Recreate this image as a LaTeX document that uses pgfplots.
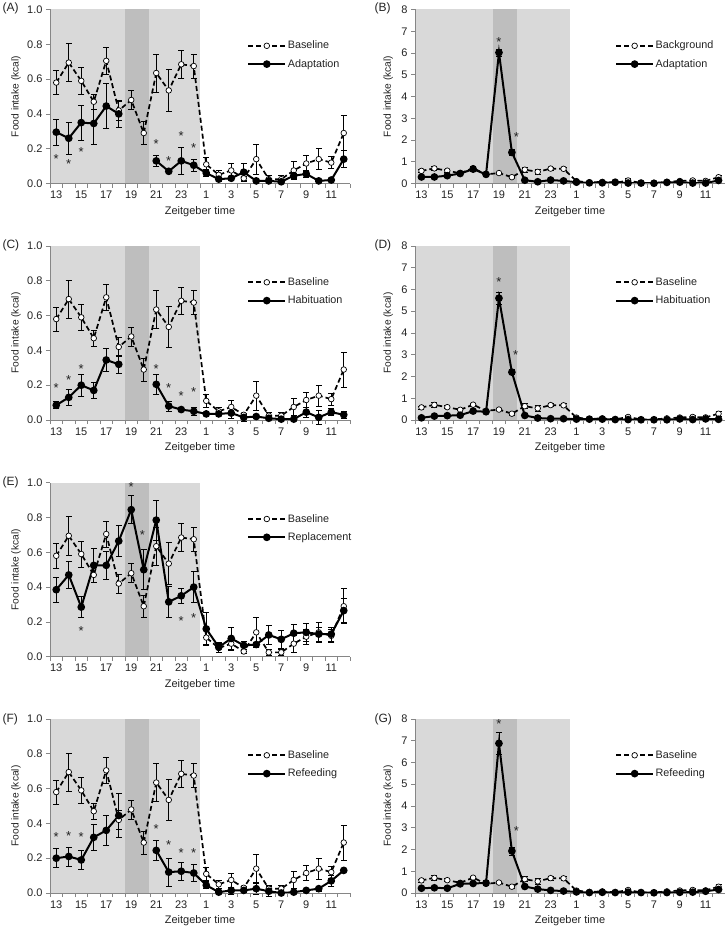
\documentclass[border=0pt]{standalone}
\usepackage{fontspec}
\setmainfont{Liberation Sans}
\usepackage{pgfplots}
\usepackage{pgfplotstable}
\pgfplotsset{compat=1.18}
\definecolor{lightsh}{RGB}{217,217,217}
\definecolor{darksh}{RGB}{190,190,190}
\definecolor{axgray}{RGB}{134,134,134}
\definecolor{txt}{RGB}{35,35,35}

% ---------------- data ----------------
\pgfplotstableread{
x y e
0 0.58 0.07
1 0.695 0.11
2 0.59 0.075
3 0.47 0.045
4 0.705 0.075
5 0.42 0.055
6 0.48 0.055
7 0.29 0.065
8 0.635 0.11
9 0.535 0.12
10 0.685 0.08
11 0.675 0.07
12 0.11 0.04
13 0.05 0.025
14 0.075 0.04
15 0.03 0.01
16 0.14 0.085
17 0.025 0.02
18 0.025 0.02
19 0.075 0.05
20 0.115 0.045
21 0.14 0.06
22 0.12 0.035
23 0.29 0.10
}\tbase

\pgfplotstableread{
x y e
0 0.295 0.075
1 0.26 0.09
2 0.35 0.10
3 0.345 0.12
4 0.445 0.13
5 0.40 0.08
6 nan 0
7 nan 0
8 0.13 0.03
9 0.07 0.008
10 0.13 0.075
11 0.105 0.035
12 0.06 0.02
13 0.025 0.01
14 0.03 0.01
15 0.065 0.05
16 0.015 0.005
17 0.015 0.01
18 0.01 0.01
19 0.045 0.015
20 0.055 0.02
21 0.015 0.005
22 0.02 0.005
23 0.14 0.05
}\tadaptA

\pgfplotstableread{
x y e
0 0.30 0.05
1 0.30 0.05
2 0.36 0.06
3 0.46 0.08
4 0.66 0.10
5 0.42 0.05
6 6.02 0.16
7 1.43 0.12
8 0.15 0.03
9 0.08 0.02
10 0.16 0.07
11 0.12 0.03
12 0.06 0.02
13 0.03 0.01
14 0.03 0.01
15 0.06 0.04
16 0.02 0.01
17 0.02 0.01
18 0.01 0.01
19 0.05 0.02
20 0.06 0.02
21 0.02 0.01
22 0.02 0.01
23 0.14 0.05
}\tadaptB

\pgfplotstableread{
x y e
0 0.085 0.02
1 0.13 0.045
2 0.20 0.065
3 0.17 0.045
4 0.345 0.065
5 0.32 0.05
6 nan 0
7 nan 0
8 0.205 0.055
9 0.08 0.03
10 0.06 0.01
11 0.05 0.025
12 0.035 0.005
13 0.035 0.01
14 0.04 0.03
15 0.015 0.02
16 0.02 0.01
17 0.01 0.005
18 0.005 0.005
19 0.005 0.005
20 0.045 0.03
21 0.015 0.04
22 0.045 0.02
23 0.03 0.02
}\thabC

\pgfplotstableread{
x y e
0 0.10 0.03
1 0.18 0.04
2 0.20 0.05
3 0.22 0.05
4 0.41 0.07
5 0.38 0.05
6 5.60 0.28
7 2.20 0.12
8 0.21 0.05
9 0.09 0.03
10 0.06 0.02
11 0.06 0.02
12 0.04 0.01
13 0.04 0.01
14 0.04 0.03
15 0.02 0.02
16 0.02 0.01
17 0.01 0.01
18 0.01 0.01
19 0.01 0.01
20 0.05 0.03
21 0.02 0.04
22 0.05 0.02
23 0.03 0.02
}\thabD

\pgfplotstableread{
x y e
0 0.385 0.07
1 0.47 0.08
2 0.285 0.06
3 0.525 0.095
4 0.525 0.08
5 0.665 0.09
6 0.845 0.08
7 0.50 0.115
8 0.785 0.115
9 0.315 0.09
10 0.35 0.045
11 0.40 0.09
12 0.16 0.095
13 0.055 0.03
14 0.105 0.065
15 0.065 0.025
16 0.07 0.015
17 0.125 0.055
18 0.10 0.05
19 0.135 0.05
20 0.14 0.05
21 0.13 0.04
22 0.13 0.04
23 0.265 0.07
}\treplE

\pgfplotstableread{
x y e
0 0.20 0.055
1 0.21 0.055
2 0.19 0.055
3 0.32 0.075
4 0.36 0.085
5 0.445 0.125
6 nan 0
7 nan 0
8 0.245 0.06
9 0.12 0.08
10 0.125 0.05
11 0.115 0.05
12 0.045 0.02
13 0.005 0.005
14 0.015 0.02
15 0.015 0.01
16 0.025 0.035
17 0.01 0.03
18 0.0 0.005
19 0.005 0.005
20 0.015 0.005
21 0.025 0.015
22 0.07 0.03
23 0.13 0.005
}\trefF

\pgfplotstableread{
x y e
0 0.22 0.04
1 0.24 0.04
2 0.22 0.04
3 0.42 0.06
4 0.44 0.08
5 0.46 0.10
6 6.88 0.50
7 1.93 0.18
8 0.30 0.06
9 0.18 0.08
10 0.12 0.05
11 0.09 0.05
12 0.05 0.02
13 0.02 0.01
14 0.03 0.02
15 0.02 0.01
16 0.04 0.03
17 0.02 0.03
18 0.01 0.01
19 0.02 0.01
20 0.03 0.01
21 0.04 0.02
22 0.08 0.03
23 0.16 0.03
}\trefG

% ---------------- styles ----------------
\newcommand{\tfont}{\fontsize{11}{13}\selectfont}
\newcommand{\yfont}{\fontsize{10.2}{12}\selectfont}
\newcommand{\lfont}{\fontsize{10.8}{13}\selectfont}
\pgfplotsset{
  base/.style={
    scale only axis, height=174pt, axis on top,
    xmin=-0.5, xmax=23.5, ymin=0,
    axis x line*=bottom, axis y line*=left,
    axis line style={axgray, line width=0.8pt},
    xtick={0,2,...,22},
    xticklabels={13,15,17,19,21,23,1,3,5,7,9,11},
    major x tick style={draw=none},
    minor xtick={-0.5,0.5,...,23.5},
    minor x tick style={axgray, line width=0.7pt},
    y tick style={axgray, line width=0.7pt},
    tick align=outside, major tick length=4pt, minor tick length=4pt,
    tick label style={font=\tfont, text=txt},
    /pgf/number format/assume math mode=true,
    xlabel={Zeitgeber time}, ylabel={Food intake (kcal)},
    xlabel style={font=\tfont, text=txt, at={(axis description cs:0.5,-0.16)}, anchor=center},
    unbounded coords=jump, clip=false,
    legend style={draw=none, fill=none, font=\lfont, text=txt,
      anchor=north west, row sep=6pt, inner sep=0pt,
      nodes={inner sep=1.5pt}},
    legend cell align=left,
    legend image code/.code={\draw[mark repeat=2,mark phase=2,#1]
       plot coordinates {(0pt,0pt) (18.5pt,0pt) (37pt,0pt)};},
  },
  leftp/.style={base, width=300pt, ymax=1,
    ytick={0,0.2,...,1.0},
    yticklabel style={/pgf/number format/.cd, fixed, fixed zerofill, precision=1},
    ylabel style={font=\yfont, text=txt, at={(axis description cs:-0.113,0.5)}, anchor=center},
    legend style={at={(0.657,0.828)}}},
  rightp/.style={base, width=310pt, ymax=8,
    ytick={0,1,...,8},
    ylabel style={font=\yfont, text=txt, at={(axis description cs:-0.086,0.5)}, anchor=center},
    legend style={at={(0.645,0.828)}}},
  bline/.style={black, line width=1.7pt, dash pattern=on 5pt off 3pt,
    mark=*, mark size=2.8pt,
    mark options={solid, fill=white, draw=black, line width=0.7pt},
    error bars/.cd, y dir=both, y explicit,
    error bar style={solid, line width=0.7pt, black},
    error mark options={rotate=90, mark size=3pt, line width=0.7pt, black}},
  tline/.style={black, line width=2pt,
    mark=*, mark size=2.8pt, mark options={solid, fill=black},
    error bars/.cd, y dir=both, y explicit,
    error bar style={solid, line width=0.7pt, black},
    error mark options={rotate=90, mark size=3pt, line width=0.7pt, black}},
  stars/.style={only marks, mark=text,
    text mark={\textcolor{txt}{\fontsize{13}{14}\selectfont *}}, forget plot},
}
\newcommand{\bgshade}[1]{%
  \fill[lightsh] (axis cs:-0.5,0) rectangle (axis cs:11.5,#1);
  \fill[darksh] (axis cs:5.5,0) rectangle (axis cs:7.4,#1);}

\begin{document}
\begin{tikzpicture}
\path[use as bounding box] (0pt,0pt) rectangle (725pt,-931pt);
\tikzset{plabel/.style={anchor=west, font=\fontsize{12}{14}\selectfont, text=txt}}
\node[plabel] at (-1pt,-8pt) {(A)};
\node[plabel] at (371pt,-8pt) {(B)};
\node[plabel] at (-1pt,-245pt) {(C)};
\node[plabel] at (371pt,-245pt) {(D)};
\node[plabel] at (-1pt,-482pt) {(E)};
\node[plabel] at (-1pt,-719pt) {(F)};
\node[plabel] at (371pt,-719pt) {(G)};

% (A)
\begin{axis}[leftp, at={(50pt,-183.5pt)}, anchor=south west]
\bgshade{1}
\addplot[bline] table[x=x, y=y, y error=e] {\tbase};
\addlegendentry{Baseline}
\addplot[tline] table[x=x, y=y, y error=e] {\tadaptA};
\addlegendentry{Adaptation}
\addplot[stars] coordinates {(0,0.14) (1,0.11) (2,0.18) (8,0.225) (9,0.13) (10,0.27) (11,0.205)};
\end{axis}

% (B)
\begin{axis}[rightp, at={(415pt,-183.5pt)}, anchor=south west]
\bgshade{8}
\addplot[bline] table[x=x, y=y, y error=e] {\tbase};
\addlegendentry{Background}
\addplot[tline] table[x=x, y=y, y error=e] {\tadaptB};
\addlegendentry{Adaptation}
\addplot[stars] coordinates {(6,6.5) (7.35,2.15)};
\end{axis}

% (C)
\begin{axis}[leftp, at={(50pt,-420pt)}, anchor=south west]
\bgshade{1}
\addplot[bline] table[x=x, y=y, y error=e] {\tbase};
\addlegendentry{Baseline}
\addplot[tline] table[x=x, y=y, y error=e] {\thabC};
\addlegendentry{Habituation}
\addplot[stars] coordinates {(0,0.185) (1,0.23) (2,0.295) (8,0.295) (9,0.185) (10,0.135) (11,0.16)};
\end{axis}

% (D)
\begin{axis}[rightp, at={(415pt,-420pt)}, anchor=south west]
\bgshade{8}
\addplot[bline] table[x=x, y=y, y error=e] {\tbase};
\addlegendentry{Baseline}
\addplot[tline] table[x=x, y=y, y error=e] {\thabD};
\addlegendentry{Habituation}
\addplot[stars] coordinates {(6,6.35) (7.3,3.0)};
\end{axis}

% (E)
\begin{axis}[leftp, at={(50pt,-656.7pt)}, anchor=south west]
\bgshade{1}
\addplot[bline] table[x=x, y=y, y error=e] {\tbase};
\addlegendentry{Baseline}
\addplot[tline] table[x=x, y=y, y error=e] {\treplE};
\addlegendentry{Replacement}
\addplot[stars] coordinates {(2,0.145) (6,0.975) (6.9,0.70) (10,0.205) (11,0.225)};
\end{axis}

% (F)
\begin{axis}[leftp, at={(50pt,-893pt)}, anchor=south west]
\bgshade{1}
\addplot[bline] table[x=x, y=y, y error=e] {\tbase};
\addlegendentry{Baseline}
\addplot[tline] table[x=x, y=y, y error=e] {\trefF};
\addlegendentry{Refeeding}
\addplot[stars] coordinates {(0,0.32) (1,0.33) (2,0.32) (8,0.365) (9,0.275) (10,0.23) (11,0.23)};
\end{axis}

% (G)
\begin{axis}[rightp, at={(415pt,-893pt)}, anchor=south west]
\bgshade{8}
\addplot[bline] table[x=x, y=y, y error=e] {\tbase};
\addlegendentry{Baseline}
\addplot[tline] table[x=x, y=y, y error=e] {\trefG};
\addlegendentry{Refeeding}
\addplot[stars] coordinates {(6,7.75) (7.35,2.85)};
\end{axis}
\end{tikzpicture}
\end{document}
